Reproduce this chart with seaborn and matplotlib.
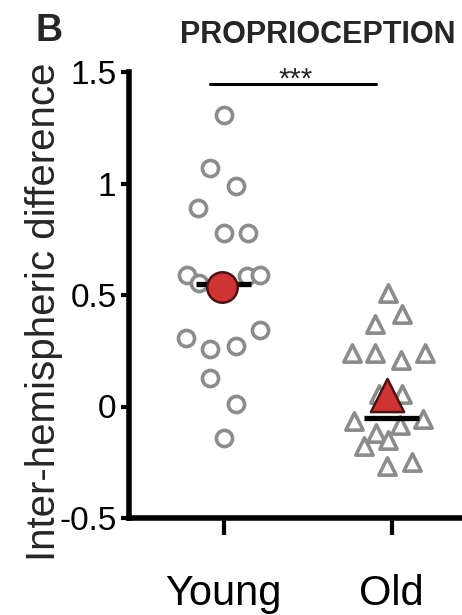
import matplotlib
matplotlib.use("Agg")
import matplotlib.pyplot as plt
import seaborn as sns
import numpy as np
import pandas as pd

# ---- data ----
groups = ["Young", "Old"]
young_values = [1.305, 1.07, 0.987, 0.89, 0.776, 0.776, 0.59, 0.556, 0.583, 0.59,
                0.305, 0.26, 0.273, 0.345, 0.126, 0.013, -0.143]
young_jitter = [0.0, -0.078, 0.072, -0.15, 0.0, 0.144, -0.216, -0.144, 0.138, 0.216,
                -0.222, -0.078, 0.072, 0.216, -0.078, 0.072, 0.0]
old_values = [0.51, 0.417, 0.372, 0.242, 0.242, 0.21, 0.242, 0.058, 0.058,
              -0.063, -0.054, -0.117, -0.085, -0.175, -0.152, -0.265, -0.25]
old_jitter = [-0.024, 0.06, -0.096, -0.234, -0.096, 0.054, 0.198, -0.072, 0.06,
              -0.222, 0.186, -0.09, 0.048, -0.162, -0.024, -0.03, 0.12]
group_means = [0.534, 0.05]
group_medians = [0.55, -0.05]
yticks = [-0.5, 0, 0.5, 1, 1.5]
ytick_labels = ["-0.5", "0", "0.5", "1", "1.5"]
sig_label = "***"

sns.set_theme(style="white")
plt.rcParams["font.family"] = ["Liberation Sans", "DejaVu Sans"]

W, H = 462, 615
fig = plt.figure(figsize=(W / 100, H / 100), dpi=100)
ax_l, ax_b, ax_r, ax_t = 129, 518, 470, 72
ax = fig.add_axes([ax_l / W, 1 - ax_b / H, (ax_r - ax_l) / W, (ax_b - ax_t) / H])

young_df = pd.DataFrame({"x": np.array(young_jitter) + 0, "y": young_values})
old_df = pd.DataFrame({"x": np.array(old_jitter) + 1, "y": old_values})
gray = "#8c8c8c"
sns.scatterplot(data=young_df, x="x", y="y", ax=ax, marker="o", s=135,
                facecolor="white", edgecolor=gray, linewidth=2.6, zorder=2)
sns.scatterplot(data=old_df, x="x", y="y", ax=ax, marker="^", s=155,
                facecolor="white", edgecolor=gray, linewidth=2.6, zorder=2)

# median bars
for i, med in enumerate(group_medians):
    ax.hlines(med, i - 0.165, i + 0.165, color="black", lw=3.8, zorder=3)

# mean markers
mean_df = pd.DataFrame({"x": [0 - 0.01, 1 - 0.03], "y": group_means, "g": groups})
red = "#cf3434"
edge = "#4a1414"
sns.scatterplot(data=mean_df.iloc[[0]], x="x", y="y", ax=ax, marker="o", s=480,
                color=red, edgecolor=edge, linewidth=1.8, zorder=4)
sns.scatterplot(data=mean_df.iloc[[1]], x="x", y="y", ax=ax, marker="^", s=570,
                color=red, edgecolor=edge, linewidth=1.8, zorder=4)

ax.set_xlim(-0.563, (ax_r - 225) / 167)
ax.set_ylim(-0.5, 1.5)
ax.set_xticks([0, 1])
ax.set_xticklabels(groups, fontsize=30)
ax.set_yticks(yticks)
ax.set_yticklabels(ytick_labels, fontsize=24)
ax.set_xlabel("")
ax.set_ylabel("Inter-hemispheric difference", fontsize=29, va="center")
ax.yaxis.set_label_coords(-0.25, 0.462)

for s in ["top", "right"]:
    ax.spines[s].set_visible(False)
for s in ["left", "bottom"]:
    ax.spines[s].set_linewidth(4.0)
    ax.spines[s].set_color("black")
ax.tick_params(axis="x", direction="out", length=12, width=3, pad=28, colors="black")
ax.tick_params(axis="y", direction="out", length=6, width=3, pad=3, colors="black")
ax.tick_params(axis="both", bottom=True, left=True)

# significance bar
ax.plot([-0.078, 0.91], [1.448, 1.448], color="black", lw=2.2, clip_on=False)
ax.text(0.43, 1.432, sig_label, ha="center", va="baseline", fontsize=21)

fig.text(180 / W, 1 - 43 / H, "PROPRIOCEPTION", ha="left", va="baseline",
         fontsize=22, fontweight="bold")
fig.text(36 / W, 1 - 41 / H, "B", ha="left", va="baseline", fontsize=27,
         fontweight="bold")

fig.savefig("out.png", dpi=100, facecolor="white")
